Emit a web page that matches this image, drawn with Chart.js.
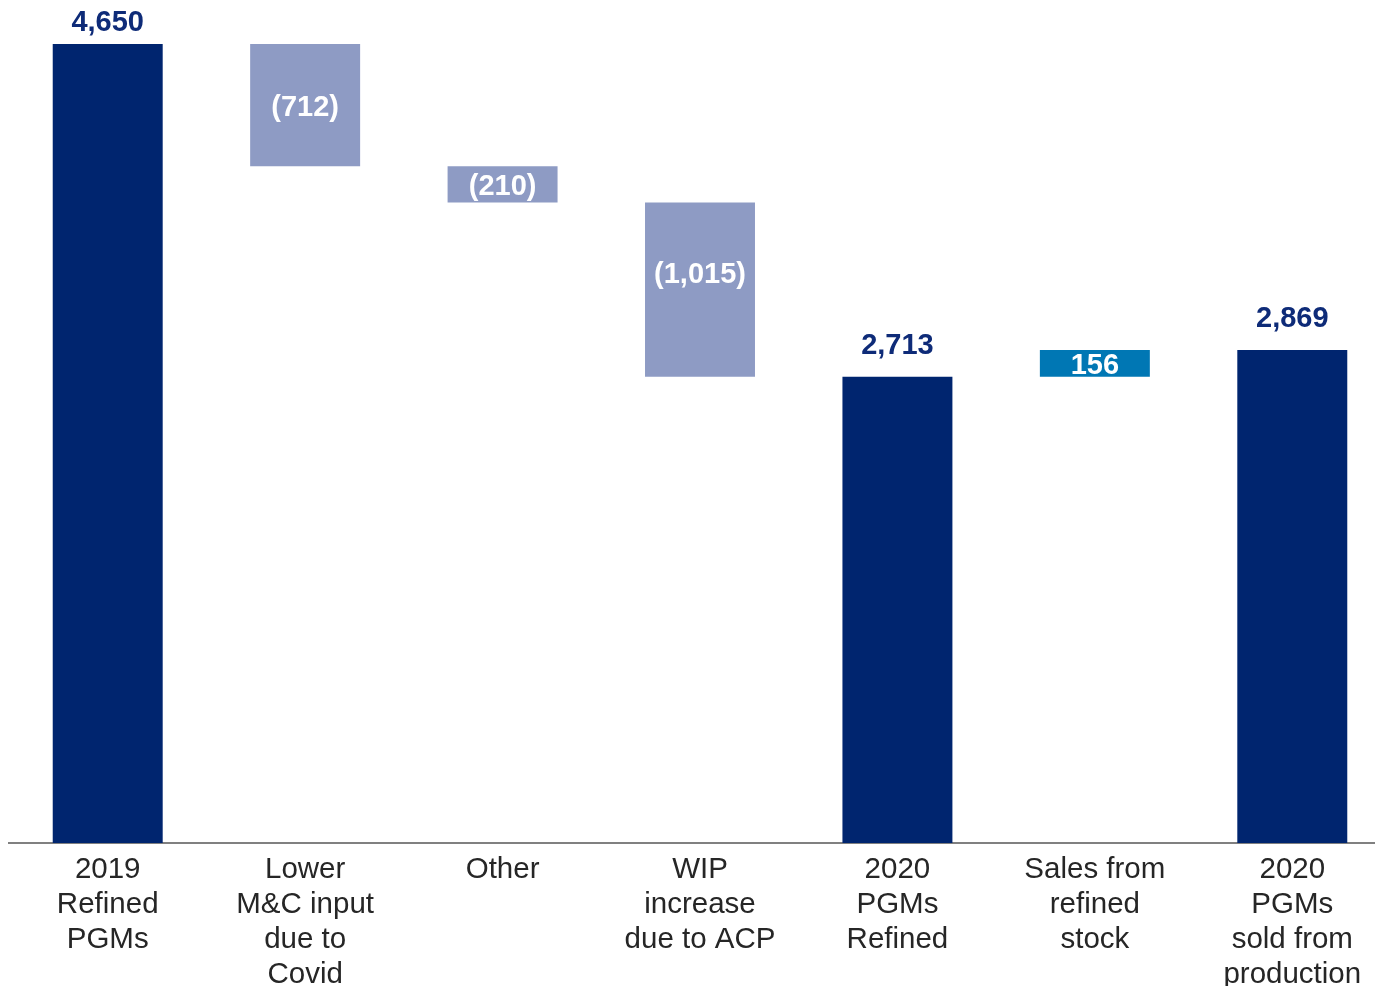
<!DOCTYPE html>
<html>
<head>
<meta charset="utf-8">
<script src="https://cdn.jsdelivr.net/npm/chart.js@4"></script>
<style>
  html, body { margin: 0; padding: 0; background: #fff; overflow: hidden; }
  #wrap { width: 1400px; height: 1010px; }
</style>
</head>
<body>
<div id="wrap"><canvas id="chart"></canvas></div>
<script>
// categories and values
const labels = [
  ['2019', 'Refined', 'PGMs'],
  ['Lower', 'M&C input', 'due to', 'Covid'],
  ['Other'],
  ['WIP', 'increase', 'due to ACP'],
  ['2020', 'PGMs', 'Refined'],
  ['Sales from', 'refined', 'stock'],
  ['2020', 'PGMs', 'sold from', 'production']
];
const values = [4650, -712, -210, -1015, 2713, 156, 2869];
const kinds = ['total', 'delta', 'delta', 'delta', 'total', 'delta', 'total'];

const navy = '#00256F';
const lightBlue = '#8E9BC4';
const teal = '#0077B4';

// build floating bars for the waterfall
let running = 0;
const bars = values.map((v, i) => {
  if (kinds[i] === 'total') {
    running = v;
    return [0, v];
  }
  const start = running;
  running += v;
  return [start, running];
});
const colors = values.map((v, i) => kinds[i] === 'total' ? navy : (v < 0 ? lightBlue : teal));

function fmt(v) {
  const s = Math.abs(v).toLocaleString('en-US');
  return v < 0 ? '(' + s + ')' : s;
}

// value labels
const valueLabels = {
  id: 'valueLabels',
  afterDatasetsDraw(chart) {
    const ctx = chart.ctx;
    const meta = chart.getDatasetMeta(0);
    ctx.save();
    ctx.font = 'bold 29px "Liberation Sans", Arial, sans-serif';
    ctx.textAlign = 'center';
    meta.data.forEach((bar, i) => {
      const v = values[i];
      if (kinds[i] === 'total') {
        ctx.fillStyle = '#0E2B78';
        ctx.textBaseline = 'alphabetic';
        ctx.fillText(fmt(v), bar.x, Math.max(bar.y - 23, 31));
      } else {
        const top = Math.min(bar.y, bar.base);
        const bottom = Math.max(bar.y, bar.base);
        let mid = (top + bottom) / 2 + 3;
        if (bottom - top > 150) mid -= 18;
        ctx.fillStyle = '#ffffff';
        ctx.textBaseline = 'middle';
        ctx.fillText(fmt(v), bar.x, mid);
      }
    });
    ctx.restore();
  }
};

new Chart(document.getElementById('chart'), {
  type: 'bar',
  data: {
    labels: labels,
    datasets: [{
      data: bars,
      backgroundColor: colors,
      borderWidth: 0,
      categoryPercentage: 1,
      barPercentage: 0.557
    }]
  },
  options: {
    responsive: true,
    maintainAspectRatio: false,
    animation: false,
    layout: { padding: { left: 9, right: 9, top: 0, bottom: 0 } },
    plugins: {
      legend: { display: false },
      tooltip: { enabled: false }
    },
    scales: {
      x: {
        grid: { display: false, drawTicks: false },
        border: { display: true, color: '#808080', width: 2 },
        ticks: {
          color: '#262626',
          font: { family: '"Liberation Sans", Arial, sans-serif', size: 29.5, lineHeight: 35 / 29.5 },
          padding: 9,
          maxRotation: 0,
          autoSkip: false
        },
        afterFit(scale) { scale.height = 167; }
      },
      y: {
        display: false,
        min: 0,
        max: 4906
      }
    }
  },
  plugins: [valueLabels]
});
</script>
</body>
</html>
